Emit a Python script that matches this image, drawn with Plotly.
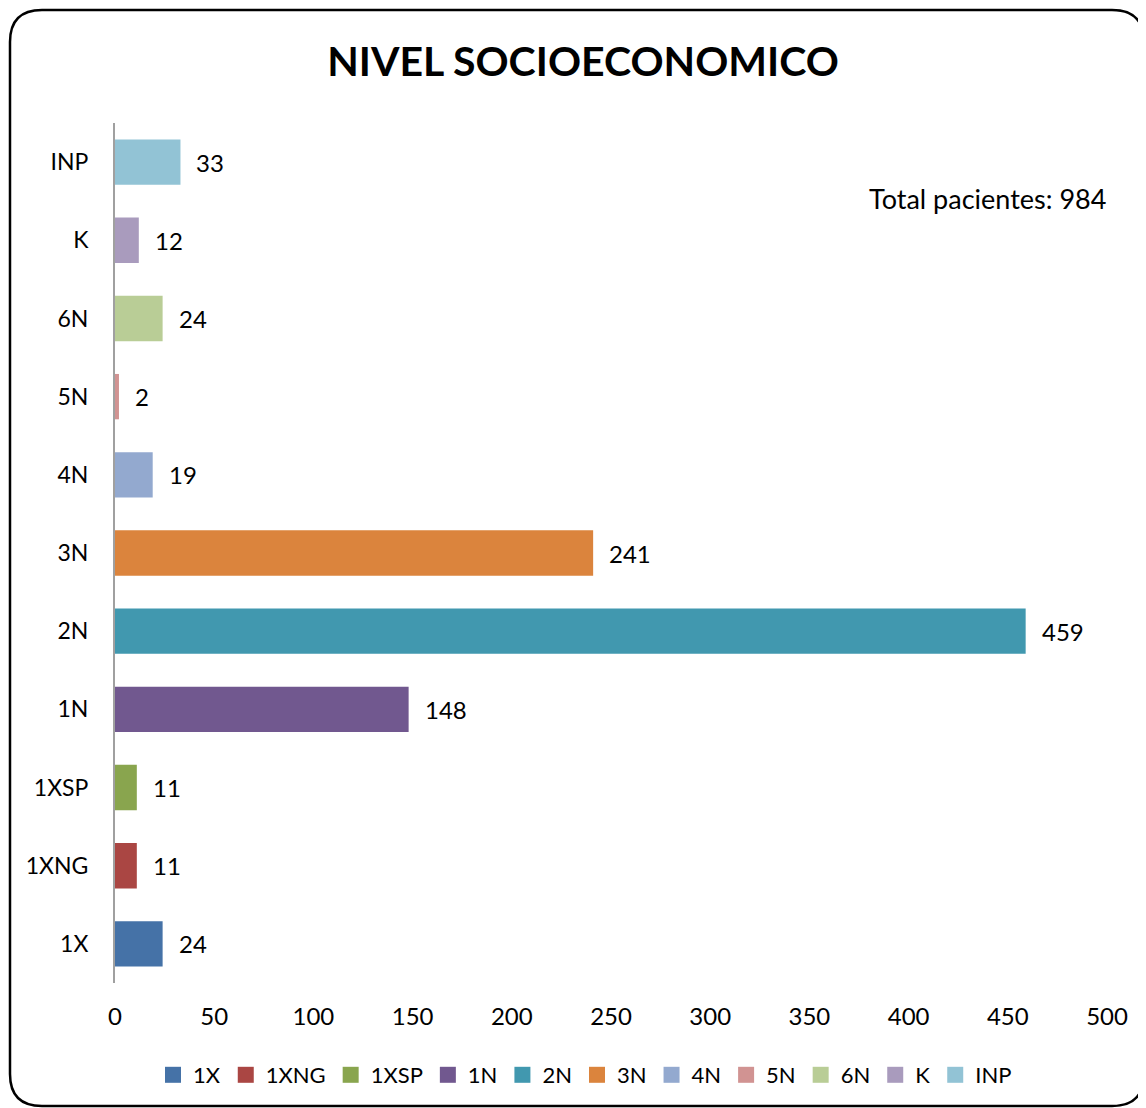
import plotly.graph_objects as go

categories = ["1X", "1XNG", "1XSP", "1N", "2N", "3N", "4N", "5N", "6N", "K", "INP"]
values = [24, 11, 11, 148, 459, 241, 19, 2, 24, 12, 33]
colors = ["#4572A7", "#AA4643", "#89A54E", "#71588F", "#4198AF", "#DB843D",
          "#93A9CF", "#D19392", "#B9CD96", "#A99BBD", "#92C3D5"]
x_ticks = [0, 50, 100, 150, 200, 250, 300, 350, 400, 450, 500]
title_text = "NIVEL SOCIOECONOMICO"
total_text = "Total pacientes: 984"

FONT = "Lato, Open Sans, sans-serif"
OFF = 8  # page body margin
W, H = 1146 - OFF, 1108 - OFF
ML, MR, MT, MB = 115 - OFF, 39, 123 - OFF, 125
PW, PH = W - ML - MR, H - MT - MB

def px_x(p):
    return (p - OFF - ML) / PW

def px_y(p):
    return (H - MB - (p - OFF)) / PH

fig = go.Figure()
for cat, val, col in zip(categories, values, colors):
    fig.add_trace(go.Bar(y=[cat], x=[val], orientation="h", name=cat, showlegend=False,
                         legendgroup=cat,
                         marker=dict(color=col, line=dict(width=0)), width=0.58))
    fig.add_trace(go.Scatter(x=[None], y=[None], mode="markers", name=cat, legendgroup=cat,
                             marker=dict(symbol="square", size=19, color=col)))
    fig.add_annotation(x=val, y=cat, xref="x", yref="y", text=str(val),
                       showarrow=False, xanchor="left", xshift=14,
                       font=dict(family=FONT, size=24, color="#000"))

# rounded border
x0, x1, y0, y1, r = 10, 1144, 10, 1106, 32
def P(x, y):
    return f"{px_x(x):.5f},{px_y(y):.5f}"
path = (f"M {P(x0 + r, y0)} L {P(x1 - r, y0)} Q {P(x1, y0)} {P(x1, y0 + r)} "
        f"L {P(x1, y1 - r)} Q {P(x1, y1)} {P(x1 - r, y1)} "
        f"L {P(x0 + r, y1)} Q {P(x0, y1)} {P(x0, y1 - r)} "
        f"L {P(x0, y0 + r)} Q {P(x0, y0)} {P(x0 + r, y0)} Z")
fig.add_shape(type="path", xref="paper", yref="paper", path=path,
              line=dict(color="#000", width=2.5), layer="below")

fig.add_annotation(x=px_x(1108), y=px_y(199), xref="paper", yref="paper",
                   text=total_text, showarrow=False, xanchor="right", yanchor="middle",
                   font=dict(family=FONT, size=27, color="#000"))

fig.update_layout(
    width=W, height=H,
    margin=dict(l=ML, r=MR, t=MT, b=MB),
    paper_bgcolor="white", plot_bgcolor="white",
    barmode="overlay",
    title=dict(text=f"<b>{title_text}</b>", x=(583 - OFF) / W, xref="container",
               xanchor="center", y=1 - (62 - OFF) / H, yref="container", yanchor="middle",
               font=dict(family=FONT, size=41, color="#000")),
    font=dict(family=FONT, size=22, color="#000"),
    showlegend=True,
    legend=dict(orientation="h", x=px_x(585), xanchor="center", y=px_y(1075), yanchor="middle",
                font=dict(family=FONT, size=22, color="#000"), itemwidth=30,
                tracegroupgap=0, traceorder="normal"),
    xaxis=dict(range=[0, 500], tickvals=x_ticks, showgrid=False, zeroline=False,
               showline=False, ticks="", ticklabelstandoff=17,
               tickfont=dict(family=FONT, size=24, color="#000"), fixedrange=True),
    yaxis=dict(categoryorder="array", categoryarray=categories, showgrid=False,
               showline=True, linecolor="#A0A0A0", linewidth=2, ticks="",
               ticklabelstandoff=20, tickfont=dict(family=FONT, size=23, color="#000")),
)

fig.write_html("out.html")
